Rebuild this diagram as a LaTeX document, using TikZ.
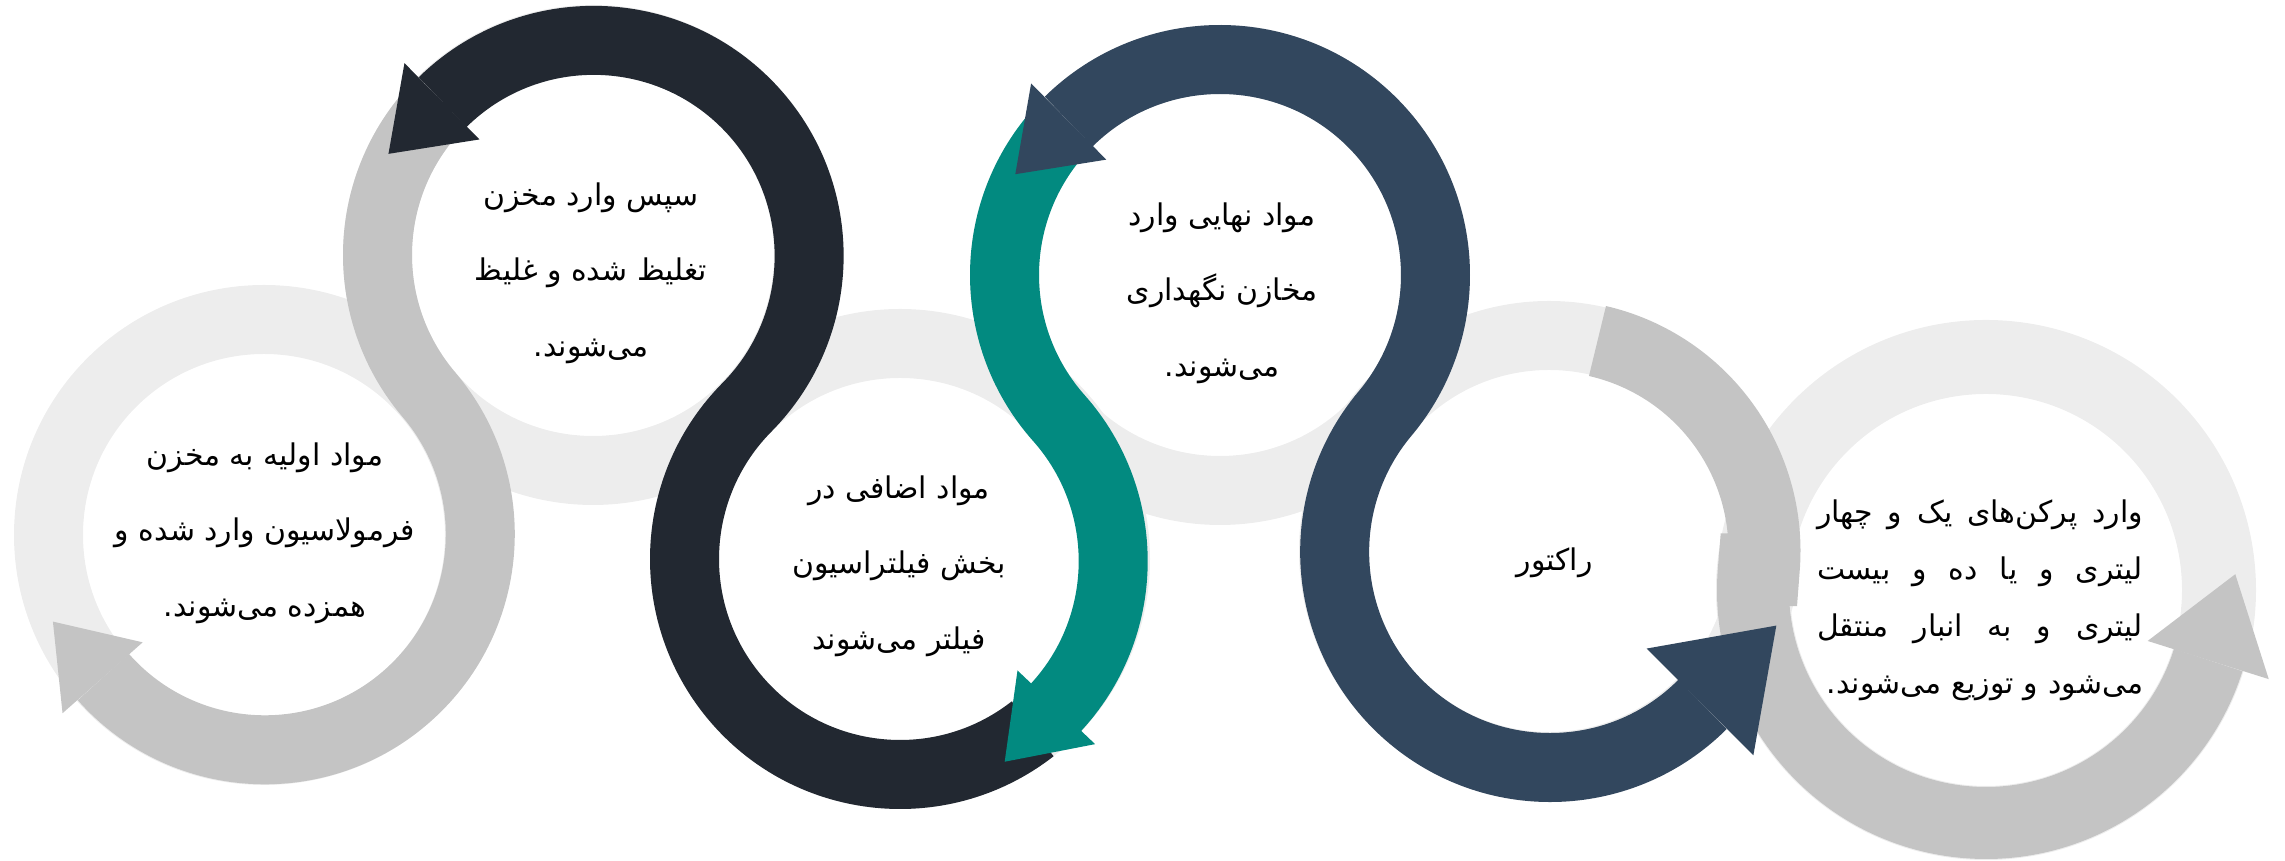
\documentclass[tikz,border=0pt]{standalone}
\usepackage{fontspec}
\newfontfamily\farsi[Script=Arabic]{DejaVu Sans}
\TeXXeTstate=1
\usetikzlibrary{calc}
\definecolor{ringgray}{HTML}{EDEDED}
\definecolor{bandgray}{HTML}{C4C4C4}
\definecolor{bandblack}{HTML}{222831}
\definecolor{bandnavy}{HTML}{32475E}
\definecolor{bandteal}{HTML}{028A80}

\begin{document}
\begin{tikzpicture}[
		ring/.style={line width=0.69cm, ringgray},
		band/.style={line width=0.69cm},
		steptext/.style={font=\farsi\fontsize{8.5}{21.5}\selectfont, align=center, inner sep=0pt}]
		\useasboundingbox (0,0) rectangle (22.85,8.61);
		\coordinate (c1) at (2.64,3.26);
		\coordinate (c2) at (5.93,6.06);
		\coordinate (c3) at (9.00,3.02);
		\coordinate (c4) at (12.20,5.86);
		\coordinate (c5) at (15.49,3.10);
		\coordinate (c6) at (19.86,2.71);
		\draw [ring] (c1) circle[radius=2.155];
		\draw [ring] (c2) circle[radius=2.155];
		\draw [ring] (c3) circle[radius=2.155];
		\draw [ring] (c4) circle[radius=2.155];
		\draw [ring] (c5) circle[radius=2.155];
		\draw [ring, line width=0.74cm] (c6) circle[radius=2.33];
		% gray, from c2 down into c1
		\draw [band, bandgray] ($(c2)+(138:2.155)$) arc[start angle=138, end angle=220.4, radius=2.155]
		arc[start angle=40.4, end angle=-138.5, radius=2.155];
		\fill [bandgray] ($(c1)+(221.5:1.62)$) -- ($(c1)+(221.5:2.69)$) -- ($(c1)+(221.5:2.155)+(131.5:0.75)$) -- cycle;
		% gray, from c5 into c6
		\draw [band, bandgray, line width=0.72cm] ($(c5)+(77:2.155)$) arc[start angle=77, end angle=-5, radius=2.155]
		-- ($(c6)+(175:2.33)$) arc[start angle=175, end angle=342.5, radius=2.33];
		\fill [bandgray] ($(c6)+(342.5:1.695)$) -- ($(c6)+(342.5:2.965)$) -- ($(c6)+(342.5:2.33)+(72.5:0.9)$) -- cycle;
		% black, from c3 up into c2
		\draw [band, bandblack] ($(c3)+(308:2.155)$) arc[start angle=308, end angle=135.3, radius=2.155]
		arc[start angle=-44.7, end angle=134.5, radius=2.155];
		\fill [bandblack] ($(c2)+(134.5:1.62)$) -- ($(c2)+(134.5:2.69)$) -- ($(c2)+(134.5:2.155)+(224.5:0.75)$) -- cycle;
		% teal, from c4 down into c3
		\draw [band, bandteal] ($(c4)+(140:2.155)$) arc[start angle=140, end angle=221.6, radius=2.155]
		arc[start angle=41.6, end angle=-43.5, radius=2.155];
		\fill [bandteal] ($(c3)+(-43.5:1.62)$) -- ($(c3)+(-43.5:2.69)$) -- ($(c3)+(-43.5:2.155)+(-133.5:0.75)$) -- cycle;
		% navy, c4 and c5
		\draw [band, bandnavy] ($(c4)+(134.6:2.155)$) arc[start angle=134.6, end angle=-40, radius=2.155]
		arc[start angle=140, end angle=315, radius=2.155];
		\fill [bandnavy] ($(c4)+(134.6:1.62)$) -- ($(c4)+(134.6:2.69)$) -- ($(c4)+(134.6:2.155)+(224.6:0.75)$) -- cycle;
		\fill [bandnavy] ($(c5)+(315:1.38)$) -- ($(c5)+(315:2.89)$) -- ($(c5)+(315:2.135)+(45:1.08)$) -- cycle;
		% texts
		\node[steptext] (feed) at (2.65,3.28) {\beginR مواد اولیه به مخزن\endR\\\beginR فرمولاسیون وارد شده و\endR\\\beginR همزده می‌شوند.\endR};
		\node[steptext] (thicken) at (5.91,5.88) {\beginR سپس وارد مخزن\endR\\\beginR تغلیظ شده و غلیظ\endR\\\beginR می‌شوند.\endR};
		\node[steptext] (filter) at (8.99,2.95) {\beginR مواد اضافی در\endR\\\beginR بخش فیلتراسیون\endR\\\beginR فیلتر می‌شوند\endR};
		\node[steptext] (storage) at (12.22,5.68) {\beginR مواد نهایی وارد\endR\\\beginR مخازن نگهداری\endR\\\beginR می‌شوند.\endR};
		\node[steptext] (reactor) at (15.545,2.98) {\beginR راکتور\endR};
		\node[font=\farsi\fontsize{8.5}{16.2}\selectfont, text width=3.26cm, align=right, inner sep=0pt] (filling) at (19.80,2.61)
		{\makebox[3.26cm][s]{\beginR وارد \hfill پرکن‌های \hfill یک \hfill و \hfill چهار\endR}\\
		\makebox[3.26cm][s]{\beginR لیتری \hfill و \hfill یا \hfill ده \hfill و \hfill بیست\endR}\\
		\makebox[3.26cm][s]{\beginR لیتری \hfill و \hfill به \hfill انبار \hfill منتقل\endR}\\
		\beginR می‌شود و توزیع می‌شوند.\endR};
	\end{tikzpicture}
\end{document}
